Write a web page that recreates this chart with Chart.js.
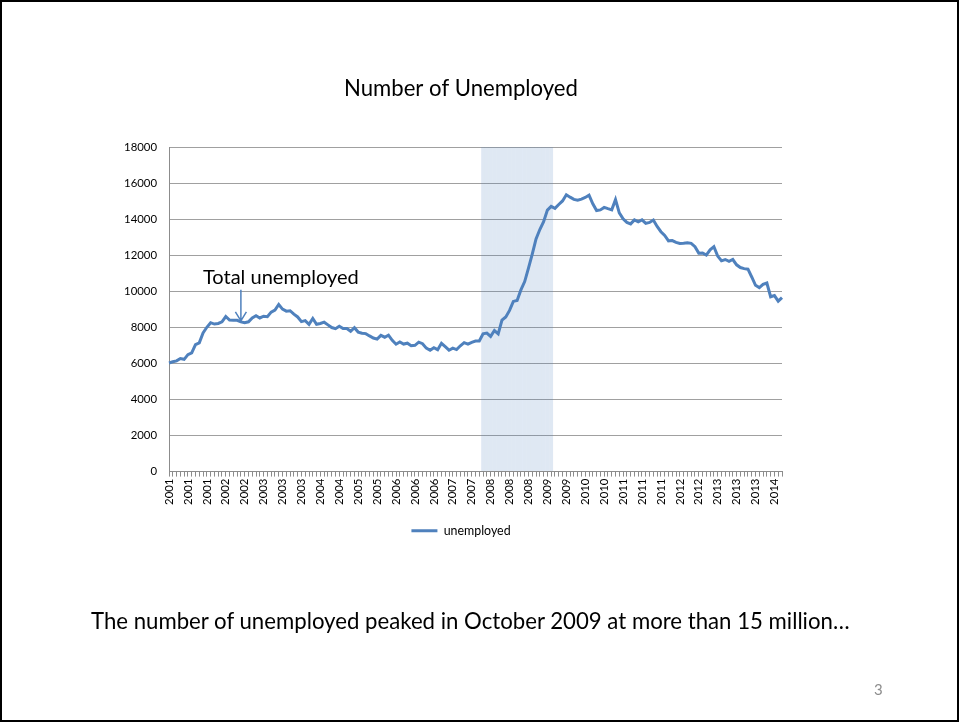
<!DOCTYPE html>
<html><head><meta charset="utf-8">
<script src="https://cdn.jsdelivr.net/npm/chart.js@4.4.1/dist/chart.umd.min.js"></script>
<style>
html,body{margin:0;padding:0;background:#fff;}
body{width:959px;height:723px;position:relative;overflow:hidden;font-family:Lato, sans-serif;}
#wrap{position:absolute;left:0;top:0;width:959px;height:723px;}
#frame{position:absolute;left:0;top:0;width:955px;height:718px;border:2px solid #000;pointer-events:none;}
#caption{position:absolute;left:91px;top:608px;white-space:nowrap;color:#000;line-height:1;}
#pagenum{position:absolute;left:874px;top:682px;color:#8c8c8c;font-size:15px;line-height:1;}
</style></head>
<body>
<div id="wrap"><canvas id="c" width="959" height="723"></canvas></div>
<div id="frame"></div>
<div id="caption">The number of unemployed peaked in October 2009 at more than 15 million…</div>
<div id="pagenum">3</div>
<script>
// ---- data (thousands of persons, monthly) ----
const years = [2001,2002,2003,2004,2005,2006,2007,2008,2009,2010,2011,2012,2013,2014];
const u2001 = [6023,6089,6141,6271,6226,6484,6583,7042,7142,7694,8003,8258];
const u2002 = [8182,8215,8304,8599,8399,8393,8390,8304,8251,8307,8520,8640];
const u2003 = [8520,8618,8588,8842,8957,9266,9011,8896,8921,8732,8576,8317];
const u2004 = [8370,8167,8491,8170,8212,8286,8136,7990,7927,8061,7932,7934];
const u2005 = [7784,7980,7737,7672,7651,7524,7406,7345,7553,7453,7566,7279];
const u2006 = [7064,7184,7072,7120,6980,7001,7175,7091,6847,6727,6872,6762];
const u2007 = [7116,6927,6731,6850,6766,6979,7149,7067,7170,7237,7240,7645];
const u2008 = [7685,7497,7822,7637,8395,8575,8937,9438,9494,10074,10538,11286];
const u2009 = [12058,12898,13426,13853,14499,14707,14601,14814,15009,15352,15219,15098];
const u2010 = [15046,15113,15202,15325,14849,14474,14512,14648,14579,14516,15081,14348];
const u2011 = [14013,13820,13737,13957,13855,13962,13763,13818,13948,13594,13302,13093];
const u2012 = [12797,12813,12713,12646,12660,12692,12656,12471,12115,12124,12005,12298];
const u2013 = [12471,11950,11689,11760,11654,11761,11467,11315,11255,11224,10792,10333];
const u2014 = [10202,10384,10459,9696,9761,9453,9648];
const byYear = [u2001,u2002,u2003,u2004,u2005,u2006,u2007,u2008,u2009,u2010,u2011,u2012,u2013,u2014];
const recessionStart = '2007-12';
const recessionEnd = '2009-06';
const annotationMonth = '2002-08';
const annotationText = 'Total unemployed';
const tickEvery = 5;
const yMin = 0, yMax = 18000, yStep = 2000;

// ---- build categories/series ----
const categories = [];
const unemployed = [];
years.forEach((y, i) => {
  byYear[i].forEach((v, m) => {
    categories.push(y + '-' + String(m + 1).padStart(2, '0'));
    unemployed.push(v);
  });
});
const recession = categories.map(c => (c >= recessionStart && c <= recessionEnd) ? yMax : null);

// ---- font sizing ----
const FAM = 'Lato';
const mctx = document.createElement('canvas').getContext('2d');
function fitSize(text, width) { mctx.font = '100px ' + FAM; return 100 * width / mctx.measureText(text).width; }
const titleSize = fitSize('Number of Unemployed', 234);
const tickSize = fitSize('18000', 33);
const legendSize = fitSize('unemployed', 67);
const annotSize = fitSize(annotationText, 156);
const cap = document.getElementById('caption');
const capSize = fitSize(cap.textContent, 760);
cap.style.fontSize = capSize + 'px';
cap.style.top = (630 - 0.89 * capSize) + 'px';

const LINE = '#4f81bd';
const GRID = '#a0a0a0';
const AXIS = '#8c8c8c';

const annotationPlugin = {
  id: 'annot',
  afterDatasetsDraw(chart) {
    const idx = categories.indexOf(annotationMonth);
    const xs = chart.scales.x, ys = chart.scales.y;
    const x = xs.getPixelForValue(idx);
    const yTip = ys.getPixelForValue(unemployed[idx]) - 1;
    const yTop = yTip - 31;
    const ctx = chart.ctx;
    ctx.save();
    ctx.strokeStyle = LINE;
    ctx.lineWidth = 1.5;
    ctx.beginPath();
    ctx.moveTo(x, yTop); ctx.lineTo(x, yTip);
    ctx.moveTo(x - 5.5, yTip - 9); ctx.lineTo(x, yTip); ctx.lineTo(x + 5.5, yTip - 9);
    ctx.stroke();
    ctx.fillStyle = '#000';
    ctx.font = annotSize + 'px ' + FAM;
    ctx.textAlign = 'left';
    ctx.textBaseline = 'alphabetic';
    ctx.fillText(annotationText, x - 38, yTop - 6);
    ctx.restore();
  }
};

new Chart(document.getElementById('c'), {
  type: 'line',
  data: {
    labels: categories,
    datasets: [
      {
        label: 'unemployed',
        data: unemployed,
        borderColor: LINE,
        backgroundColor: LINE,
        borderWidth: 3,
        pointRadius: 0,
        tension: 0,
        fill: false,
        order: 1,
        yAxisID: 'y'
      },
      {
        type: 'bar',
        label: 'recession',
        data: recession,
        backgroundColor: 'rgba(79,129,189,0.18)',
        borderWidth: 0,
        barPercentage: 1,
        categoryPercentage: 1,
        inflateAmount: 0,
        order: 2,
        yAxisID: 'y'
      }
    ]
  },
  options: {
    responsive: false,
    animation: false,
    layout: { padding: { top: 76, left: 109, right: 146, bottom: 176 } },
    plugins: {
      title: {
        display: true, text: 'Number of Unemployed', color: '#000',
        font: { family: FAM, size: titleSize, weight: 'normal' },
        padding: { top: 0, bottom: 71 - 1.2 * titleSize }
      },
      legend: {
        position: 'bottom',
        labels: {
          color: '#000', boxWidth: 26, boxHeight: 3, padding: 10,
          font: { family: FAM, size: legendSize },
          generateLabels: (chart) => Chart.defaults.plugins.legend.labels.generateLabels(chart)
            .filter(l => l.datasetIndex === 0)
            .map(l => Object.assign(l, { lineWidth: 0, fillStyle: LINE }))
        }
      },
      tooltip: { enabled: false }
    },
    scales: {
      x: {
        type: 'category', offset: false,
        grid: { display: true, drawOnChartArea: false, drawTicks: true, tickLength: 5, color: AXIS, offset: false },
        border: { display: true, color: AXIS },
        ticks: {
          autoSkip: false, maxRotation: 90, minRotation: 90, padding: 2, color: '#000',
          font: { family: FAM, size: tickSize },
          callback: (v, i) => (i % tickEvery === 0 ? categories[i].slice(0, 4) : '')
        },
        afterFit: (s) => { s.height = 43; }
      },
      y: {
        position: 'left',
        min: yMin, max: yMax,
        ticks: { stepSize: yStep, padding: 12, color: '#000', font: { family: FAM, size: tickSize },
                 callback: (v) => String(v) },
        grid: { color: GRID, drawTicks: false },
        border: { display: true, color: AXIS },
        afterFit: (s) => { s.width = 60; }
      },
      spacer: {
        position: 'right',
        min: yMin, max: yMax,
        ticks: { display: false },
        grid: { display: false, drawOnChartArea: false, drawTicks: false },
        border: { display: false },
        afterFit: (s) => { s.width = 31; }
      }
    }
  },
  plugins: [annotationPlugin]
});
</script>
</body></html>
